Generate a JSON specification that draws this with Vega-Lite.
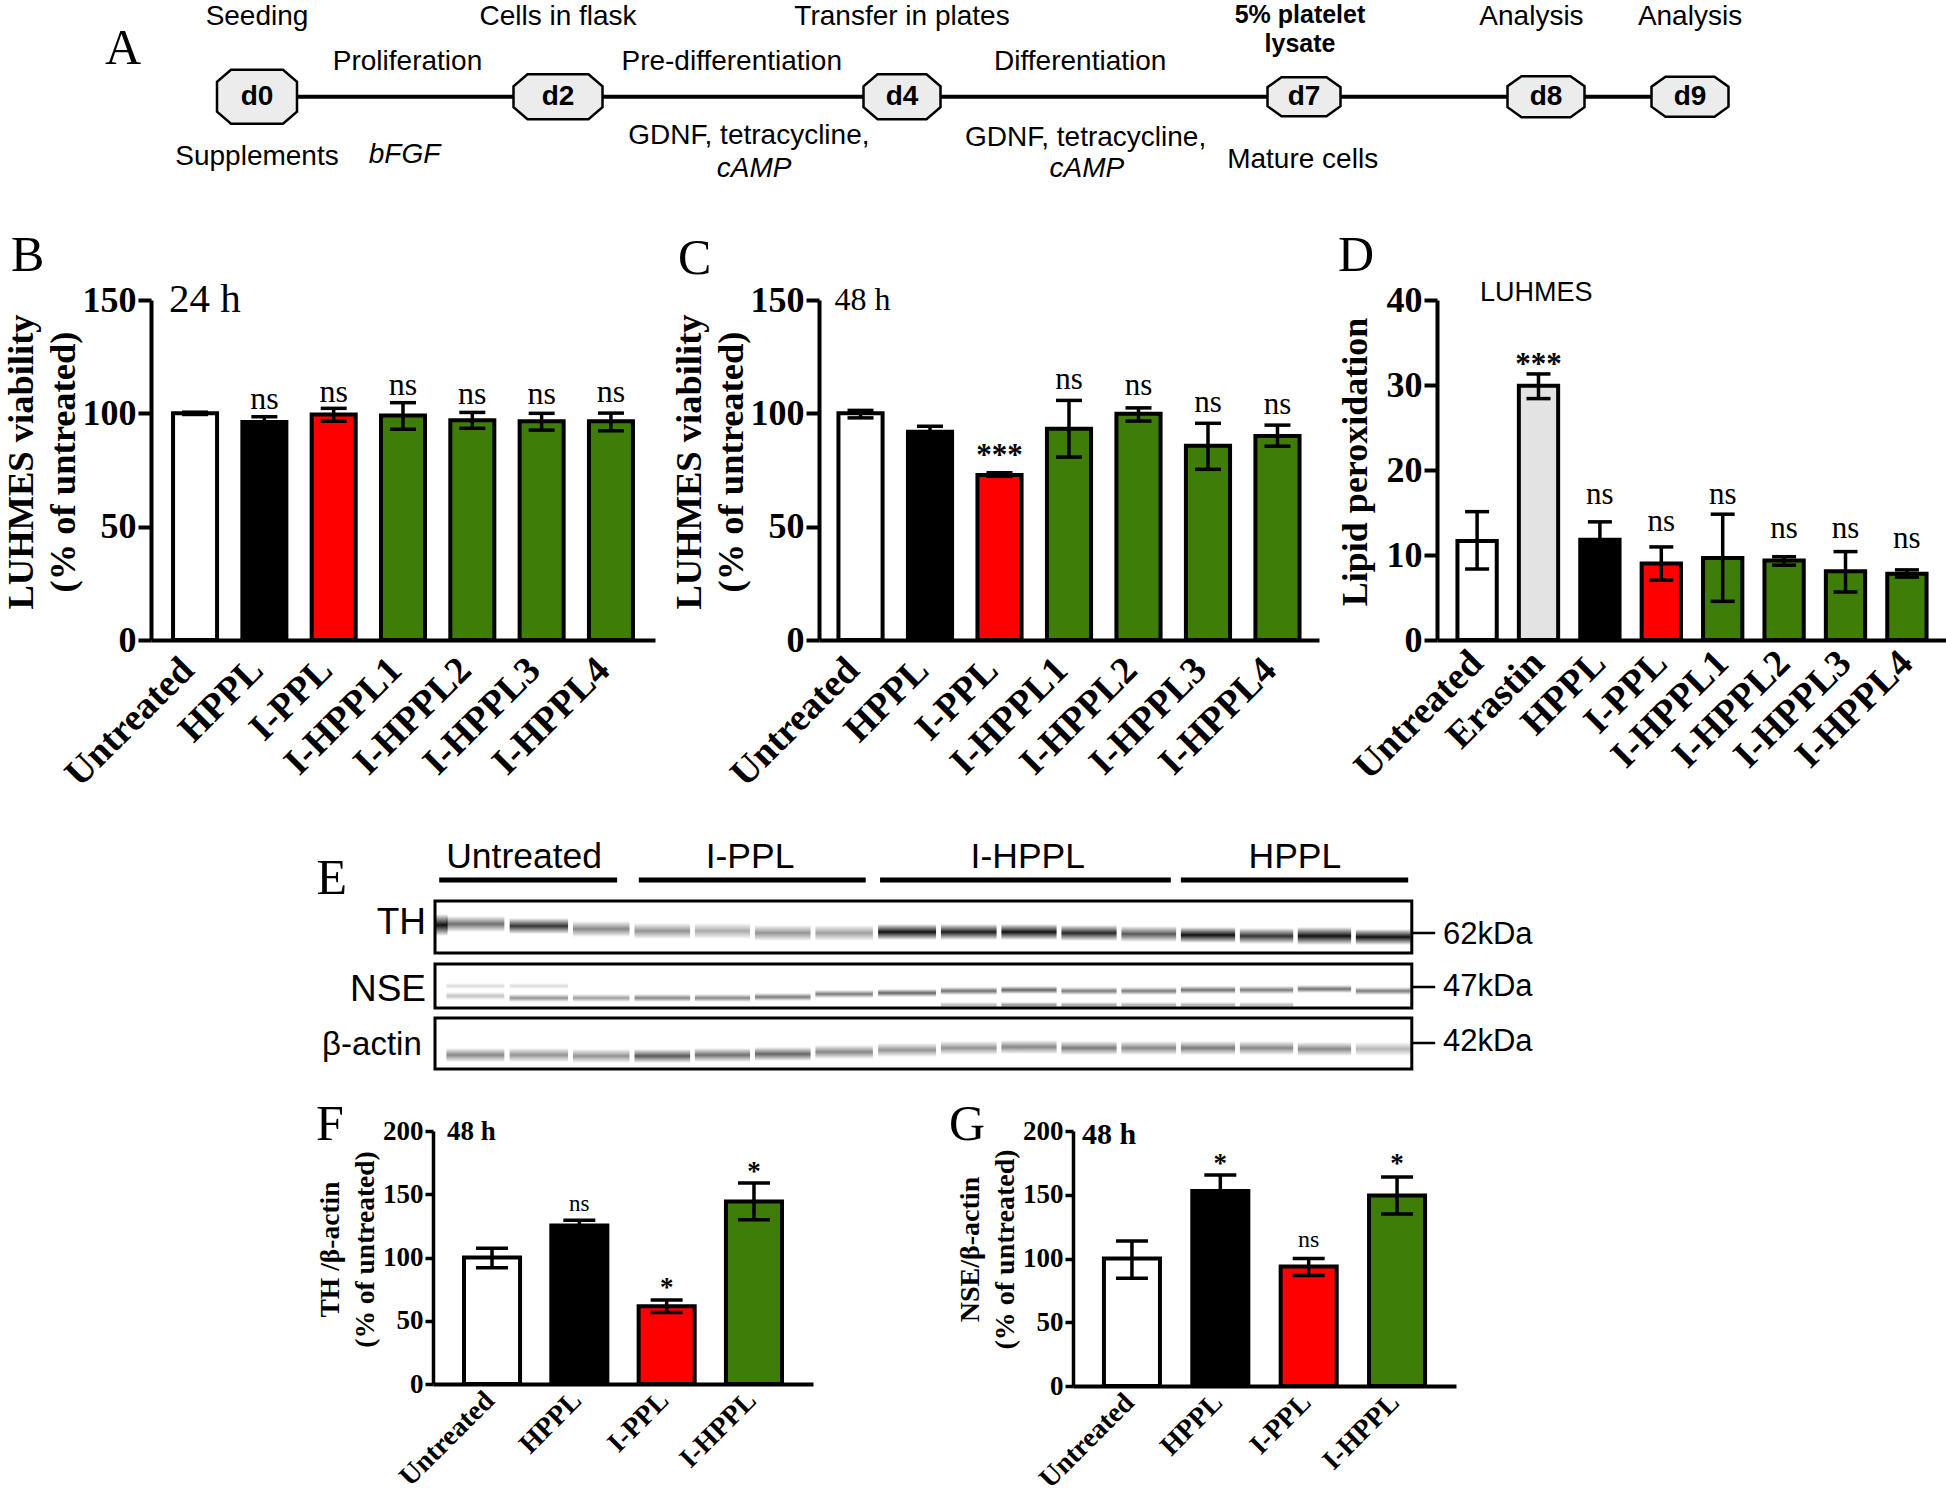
{
"$schema":"https://vega.github.io/schema/vega-lite/v6.json",
"padding":{"left":3,"top":0,"right":0,"bottom":0},
"background":"white",
"config":{"view":{"stroke":null},
"axis":{"grid":false,"domainColor":"#000","tickColor":"#000","labelColor":"#000","titleColor":"#000","labelFont":"Liberation Serif","titleFont":"Liberation Serif","labelFontWeight":"bold","titleFontWeight":"bold"},
"axisY":{"domainWidth":4,"tickWidth":4,"tickSize":13,"labelFontSize":36,"titleFontSize":36.5,"titleLineHeight":41.5,"labelPadding":2,"titlePadding":0,"titleY":161.5},
"axisX":{"domainWidth":4,"ticks":false,"labelAngle":-45,"labelAlign":"right","labelBaseline":"middle","labelFontSize":38,"labelPadding":24,"labelOffset":-7,"title":null,"labelOverlap":false,"labelBound":false},
"title":{"font":"Liberation Serif","fontWeight":"normal","fontSize":50,"anchor":"start","frame":"group","color":"#000"},
"text":{"color":"#000"}},
"bounds":"flush",
"spacing":200,
"datasets":{
"lanes":[{"lane":0.54,"lane_end":1.46},{"lane":1.54,"lane_end":2.46},{"lane":2.54,"lane_end":3.46},{"lane":3.54,"lane_end":4.46},{"lane":4.54,"lane_end":5.46},{"lane":5.54,"lane_end":6.46},{"lane":6.54,"lane_end":7.46},{"lane":7.54,"lane_end":8.46},{"lane":8.54,"lane_end":9.46},{"lane":9.54,"lane_end":10.46},{"lane":10.54,"lane_end":11.46},{"lane":11.54,"lane_end":12.46},{"lane":12.54,"lane_end":13.46},{"lane":13.54,"lane_end":14.46},{"lane":14.54,"lane_end":15.46},{"lane":15.54,"lane_end":16.46}],
"bands":[
{"lane":0.36,"lane_end":0.56,"tier":22.4,"tier_end":24.6,"density":1},
{"lane":0.54,"lane_end":1.46,"tier":22.6,"tier_end":24.2,"density":0.6},
{"lane":1.54,"lane_end":2.46,"tier":22.8,"tier_end":24.4,"density":0.85},
{"lane":2.54,"lane_end":3.46,"tier":23.1,"tier_end":24.7,"density":0.5},
{"lane":3.54,"lane_end":4.46,"tier":23.3,"tier_end":24.9,"density":0.45},
{"lane":4.54,"lane_end":5.46,"tier":23.3,"tier_end":24.9,"density":0.35},
{"lane":5.54,"lane_end":6.46,"tier":23.5,"tier_end":25.1,"density":0.45},
{"lane":6.54,"lane_end":7.46,"tier":23.5,"tier_end":25.1,"density":0.4},
{"lane":7.54,"lane_end":8.46,"tier":23.4,"tier_end":25.0,"density":1},
{"lane":8.54,"lane_end":9.46,"tier":23.4,"tier_end":25.0,"density":0.95},
{"lane":9.54,"lane_end":10.46,"tier":23.4,"tier_end":25.0,"density":1},
{"lane":10.54,"lane_end":11.46,"tier":23.5,"tier_end":25.1,"density":0.9},
{"lane":11.54,"lane_end":12.46,"tier":23.6,"tier_end":25.2,"density":0.7},
{"lane":12.54,"lane_end":13.46,"tier":23.7,"tier_end":25.3,"density":1},
{"lane":13.54,"lane_end":14.46,"tier":23.8,"tier_end":25.4,"density":0.85},
{"lane":14.54,"lane_end":15.46,"tier":23.7,"tier_end":25.5,"density":1},
{"lane":15.54,"lane_end":16.46,"tier":23.9,"tier_end":25.5,"density":1},
{"lane":0.54,"lane_end":1.46,"tier":30.2,"tier_end":31.0,"density":0.25},
{"lane":1.54,"lane_end":2.46,"tier":30.4,"tier_end":31.2,"density":0.45},
{"lane":2.54,"lane_end":3.46,"tier":30.4,"tier_end":31.2,"density":0.4},
{"lane":3.54,"lane_end":4.46,"tier":30.4,"tier_end":31.2,"density":0.5},
{"lane":4.54,"lane_end":5.46,"tier":30.4,"tier_end":31.2,"density":0.5},
{"lane":5.54,"lane_end":6.46,"tier":30.3,"tier_end":31.1,"density":0.55},
{"lane":6.54,"lane_end":7.46,"tier":30.0,"tier_end":30.8,"density":0.55},
{"lane":7.54,"lane_end":8.46,"tier":29.9,"tier_end":30.7,"density":0.65},
{"lane":8.54,"lane_end":9.46,"tier":29.7,"tier_end":30.5,"density":0.6},
{"lane":9.54,"lane_end":10.46,"tier":29.6,"tier_end":30.4,"density":0.65},
{"lane":10.54,"lane_end":11.46,"tier":29.7,"tier_end":30.5,"density":0.55},
{"lane":11.54,"lane_end":12.46,"tier":29.7,"tier_end":30.5,"density":0.55},
{"lane":12.54,"lane_end":13.46,"tier":29.6,"tier_end":30.4,"density":0.6},
{"lane":13.54,"lane_end":14.46,"tier":29.6,"tier_end":30.4,"density":0.55},
{"lane":14.54,"lane_end":15.46,"tier":29.5,"tier_end":30.3,"density":0.6},
{"lane":15.54,"lane_end":16.46,"tier":29.7,"tier_end":30.5,"density":0.55},
{"lane":0.54,"lane_end":1.46,"tier":29.3,"tier_end":29.9,"density":0.15},
{"lane":1.54,"lane_end":2.46,"tier":29.3,"tier_end":29.9,"density":0.15},
{"lane":8.54,"lane_end":9.46,"tier":31.2,"tier_end":31.8,"density":0.3},
{"lane":9.54,"lane_end":10.46,"tier":31.2,"tier_end":31.8,"density":0.45},
{"lane":10.54,"lane_end":11.46,"tier":31.2,"tier_end":31.8,"density":0.4},
{"lane":11.54,"lane_end":12.46,"tier":31.2,"tier_end":31.8,"density":0.35},
{"lane":12.54,"lane_end":13.46,"tier":31.2,"tier_end":31.8,"density":0.35},
{"lane":13.54,"lane_end":14.46,"tier":31.2,"tier_end":31.8,"density":0.3},
{"lane":0.54,"lane_end":1.46,"tier":35.8,"tier_end":37.2,"density":0.5},
{"lane":1.54,"lane_end":2.46,"tier":35.8,"tier_end":37.2,"density":0.45},
{"lane":2.54,"lane_end":3.46,"tier":35.9,"tier_end":37.3,"density":0.45},
{"lane":3.54,"lane_end":4.46,"tier":35.9,"tier_end":37.3,"density":0.7},
{"lane":4.54,"lane_end":5.46,"tier":35.8,"tier_end":37.2,"density":0.6},
{"lane":5.54,"lane_end":6.46,"tier":35.7,"tier_end":37.1,"density":0.65},
{"lane":6.54,"lane_end":7.46,"tier":35.5,"tier_end":36.9,"density":0.5},
{"lane":7.54,"lane_end":8.46,"tier":35.3,"tier_end":36.7,"density":0.45},
{"lane":8.54,"lane_end":9.46,"tier":35.1,"tier_end":36.5,"density":0.45},
{"lane":9.54,"lane_end":10.46,"tier":35.0,"tier_end":36.4,"density":0.5},
{"lane":10.54,"lane_end":11.46,"tier":35.1,"tier_end":36.5,"density":0.55},
{"lane":11.54,"lane_end":12.46,"tier":35.1,"tier_end":36.5,"density":0.5},
{"lane":12.54,"lane_end":13.46,"tier":35.1,"tier_end":36.5,"density":0.55},
{"lane":13.54,"lane_end":14.46,"tier":35.1,"tier_end":36.5,"density":0.5},
{"lane":14.54,"lane_end":15.46,"tier":35.2,"tier_end":36.6,"density":0.5},
{"lane":15.54,"lane_end":16.46,"tier":35.2,"tier_end":36.6,"density":0.3}
]
},
"vconcat":[
{"width":1796,"height":100,
"encoding":{"x":{"field":"day","type":"quantitative","axis":null,"scale":{"domain":[0,2,4,7,8,9],"range":[106,407,751,1153,1395,1539],"nice":false,"zero":false}},"y":{"field":"tier","type":"quantitative","axis":null,"scale":{"domain":[-0.07,2.07],"nice":false,"zero":false}}},
"layer":[
{"data":{"values":[{"day":0,"day_end":9,"tier":0}]},"mark":{"type":"rule","stroke":"#000","strokeWidth":4},"encoding":{"x2":{"field":"day_end"}}},
{"data":{"values":[{"day":0,"tier":0,"label":"d0"},{"day":2,"tier":0,"label":"d2"},{"day":4,"tier":0,"label":"d4"},{"day":7,"tier":0,"label":"d7"},{"day":8,"tier":0,"label":"d8"},{"day":9,"tier":0,"label":"d9"}]},
"layer":[
{"mark":{"type":"point","filled":true,"fill":"#ececec","stroke":"#000","strokeWidth":2.5,"size":10000,"opacity":1},"encoding":{"shape":{"field":"label","type":"nominal","legend":null,"scale":{"domain":["d0","d2","d4","d7","d8","d9"],"range":["M-0.52,-0.54L0.52,-0.54L0.8,-0.3L0.8,0.3L0.52,0.54L-0.52,0.54L-0.8,0.3L-0.8,-0.3Z","M-0.61,-0.45L0.61,-0.45L0.89,-0.21L0.89,0.21L0.61,0.45L-0.61,0.45L-0.89,0.21L-0.89,-0.21Z","M-0.49,-0.45L0.49,-0.45L0.77,-0.21L0.77,0.21L0.49,0.45L-0.49,0.45L-0.77,0.21L-0.77,-0.21Z","M-0.45,-0.39L0.45,-0.39L0.73,-0.19L0.73,0.19L0.45,0.39L-0.45,0.39L-0.73,0.19L-0.73,-0.19Z","M-0.49,-0.41L0.49,-0.41L0.77,-0.21L0.77,0.21L0.49,0.41L-0.49,0.41L-0.77,0.21L-0.77,-0.21Z","M-0.49,-0.4L0.49,-0.4L0.77,-0.2L0.77,0.2L0.49,0.4L-0.49,0.4L-0.77,0.2L-0.77,-0.2Z"]}}}},
{"mark":{"type":"text","font":"Liberation Sans","fontWeight":"bold","fontSize":28,"baseline":"middle"},"encoding":{"text":{"field":"label"}}}
]},
{"data":{"values":[{"day":0,"tier":1.71,"label":"Seeding"},{"day":2,"tier":1.71,"label":"Cells in flask"},{"day":4,"tier":1.71,"label":"Transfer in plates"},{"day":7.94,"tier":1.71,"label":"Analysis"},{"day":9,"tier":1.71,"label":"Analysis"},{"day":1,"tier":0.74,"label":"Proliferation"},{"day":3.01,"tier":0.74,"label":"Pre-differentiation"},{"day":5.33,"tier":0.74,"label":"Differentiation"},{"day":0,"tier":-1.3,"label":"Supplements"},{"day":3.11,"tier":-0.85,"label":"GDNF, tetracycline,"},{"day":5.37,"tier":-0.88,"label":"GDNF, tetracycline,"},{"day":6.99,"tier":-1.36,"label":"Mature cells"}]},"mark":{"type":"text","font":"Liberation Sans","fontSize":28,"baseline":"middle"},"encoding":{"text":{"field":"label"}}},
{"data":{"values":[{"day":0.98,"tier":-1.25,"label":"bFGF"},{"day":3.14,"tier":-1.55,"label":"cAMP"},{"day":5.38,"tier":-1.55,"label":"cAMP"}]},"mark":{"type":"text","font":"Liberation Sans","fontStyle":"italic","fontSize":28,"baseline":"middle"},"encoding":{"text":{"field":"label"}}},
{"data":{"values":[{"day":6.97,"tier":1.75,"label":"5% platelet"},{"day":6.97,"tier":1.13,"label":"lysate"}]},"mark":{"type":"text","font":"Liberation Sans","fontWeight":"bold","fontSize":25,"baseline":"middle"},"encoding":{"text":{"field":"label"}}},
{"data":{"values":[{"day":-0.89,"tier":1.02,"label":"A"}]},"mark":{"type":"text","font":"Liberation Serif","fontSize":50,"baseline":"middle"},"encoding":{"text":{"field":"label"}}}
]},

{"hconcat":[
{"width":504,"height":340,"title":{"text":"B","dx":-140,"offset":-2},
"data":{"values":[
{"group":"Untreated","value":100,"hi":100.5,"lo":99.5},
{"group":"HPPL","value":96.2,"hi":98.5,"lo":94,"sig":"ns","sig_at":106.3},
{"group":"I-PPL","value":99.5,"hi":102.2,"lo":96.5,"sig":"ns","sig_at":109.2},
{"group":"I-HPPL1","value":99,"hi":104.7,"lo":93,"sig":"ns","sig_at":112.5},
{"group":"I-HPPL2","value":97,"hi":100.4,"lo":93.4,"sig":"ns","sig_at":108.4},
{"group":"I-HPPL3","value":96.5,"hi":100,"lo":92.6,"sig":"ns","sig_at":108.4},
{"group":"I-HPPL4","value":96.5,"hi":100.1,"lo":92.3,"sig":"ns","sig_at":109.2}]},
"encoding":{"x":{"field":"group","type":"nominal","sort":null,"scale":{"paddingInner":0.365,"paddingOuter":0.318}}},
"layer":[
{"mark":{"type":"bar","stroke":"#000","strokeWidth":4},"encoding":{"y":{"field":"value","type":"quantitative","scale":{"domain":[0,150],"nice":false},"axis":{"values":[0,50,100,150],"title":["LUHMES viability","(% of untreated)"]}},"fill":{"field":"group","type":"nominal","legend":null,"scale":{"domain":["Untreated","Erastin","HPPL","I-PPL","I-HPPL","I-HPPL1","I-HPPL2","I-HPPL3","I-HPPL4"],"range":["#ffffff","#e3e3e3","#000000","#ff0000","#3e7d08","#3e7d08","#3e7d08","#3e7d08","#3e7d08"]}}}},
{"mark":{"type":"rule","stroke":"#000","strokeWidth":3.5},"encoding":{"y":{"field":"lo","type":"quantitative"},"y2":{"field":"hi"}}},
{"mark":{"type":"tick","color":"#000","thickness":3.5,"size":26,"opacity":1},"encoding":{"y":{"field":"hi","type":"quantitative"}}},
{"mark":{"type":"tick","color":"#000","thickness":3.5,"size":26,"opacity":1},"encoding":{"y":{"field":"lo","type":"quantitative"}}},
{"transform":[{"filter":"datum.sig != null"}],"mark":{"type":"text","font":"Liberation Serif","fontSize":32,"baseline":"middle"},"encoding":{"y":{"field":"sig_at","type":"quantitative"},"text":{"field":"sig"}}},
{"data":{"values":[{"group":"Untreated","at":150,"note":"24 h"}]},"mark":{"type":"text","font":"Liberation Serif","fontSize":41,"align":"left","baseline":"middle","dx":-26},"encoding":{"y":{"field":"at","type":"quantitative"},"text":{"field":"note"}}}
]},
{"width":164,"height":1,"data":{"values":[]},"mark":"text","encoding":{}},
{"width":500,"height":340,"title":{"text":"C","dx":-141,"offset":-2},
"data":{"values":[
{"group":"Untreated","value":100,"hi":101.3,"lo":98},
{"group":"HPPL","value":91.9,"hi":94.3,"lo":89.5},
{"group":"I-PPL","value":72.8,"hi":73.8,"lo":72.2,"sig":"***","sig_at":81.1},
{"group":"I-HPPL1","value":93.2,"hi":105.7,"lo":80.7,"sig":"ns","sig_at":114.6},
{"group":"I-HPPL2","value":99.8,"hi":102.4,"lo":96.6,"sig":"ns","sig_at":112.2},
{"group":"I-HPPL3","value":85.7,"hi":95.6,"lo":75.3,"sig":"ns","sig_at":104.4},
{"group":"I-HPPL4","value":90,"hi":94.8,"lo":85.5,"sig":"ns","sig_at":103.8}]},
"encoding":{"x":{"field":"group","type":"nominal","sort":null,"scale":{"paddingInner":0.365,"paddingOuter":0.28}}},
"layer":[
{"mark":{"type":"bar","stroke":"#000","strokeWidth":4},"encoding":{"y":{"field":"value","type":"quantitative","scale":{"domain":[0,150],"nice":false},"axis":{"values":[0,50,100,150],"title":["LUHMES viability","(% of untreated)"]}},"fill":{"field":"group","type":"nominal","legend":null}}},
{"mark":{"type":"rule","stroke":"#000","strokeWidth":3.5},"encoding":{"y":{"field":"lo","type":"quantitative"},"y2":{"field":"hi"}}},
{"mark":{"type":"tick","color":"#000","thickness":3.5,"size":26,"opacity":1},"encoding":{"y":{"field":"hi","type":"quantitative"}}},
{"mark":{"type":"tick","color":"#000","thickness":3.5,"size":26,"opacity":1},"encoding":{"y":{"field":"lo","type":"quantitative"}}},
{"transform":[{"filter":"datum.sig == 'ns'"}],"mark":{"type":"text","font":"Liberation Serif","fontSize":31,"baseline":"middle"},"encoding":{"y":{"field":"sig_at","type":"quantitative"},"text":{"field":"sig"}}},
{"transform":[{"filter":"datum.sig == '***'"}],"mark":{"type":"text","font":"Liberation Serif","fontWeight":"bold","fontSize":31,"baseline":"middle"},"encoding":{"y":{"field":"sig_at","type":"quantitative"},"text":{"field":"sig"}}},
{"data":{"values":[{"group":"Untreated","at":150,"note":"48 h"}]},"mark":{"type":"text","font":"Liberation Serif","fontSize":32,"align":"left","baseline":"middle","dx":-26},"encoding":{"y":{"field":"at","type":"quantitative"},"text":{"field":"note"}}}
]},
{"width":118,"height":1,"data":{"values":[]},"mark":"text","encoding":{}},
{"width":510,"height":340,"title":{"text":"D","dx":-99,"offset":-2},
"data":{"values":[
{"group":"Untreated","value":11.65,"hi":15.1,"lo":8.35},
{"group":"Erastin","value":29.9,"hi":31.3,"lo":28.4,"sig":"***","sig_at":32.4},
{"group":"HPPL","value":11.8,"hi":13.9,"lo":9.8,"sig":"ns","sig_at":17.1},
{"group":"I-PPL","value":9,"hi":10.95,"lo":7.05,"sig":"ns","sig_at":13.9},
{"group":"I-HPPL1","value":9.65,"hi":14.8,"lo":4.55,"sig":"ns","sig_at":17.1},
{"group":"I-HPPL2","value":9.35,"hi":9.8,"lo":8.8,"sig":"ns","sig_at":13.1},
{"group":"I-HPPL3","value":8.1,"hi":10.4,"lo":5.65,"sig":"ns","sig_at":13.1},
{"group":"I-HPPL4","value":7.8,"hi":8.25,"lo":7.4,"sig":"ns","sig_at":11.9}]},
"encoding":{"x":{"field":"group","type":"nominal","sort":null,"scale":{"paddingInner":0.36,"paddingOuter":0.333},"axis":{"labelOffset":0,"labelPadding":17}}},
"layer":[
{"mark":{"type":"bar","stroke":"#000","strokeWidth":4},"encoding":{"y":{"field":"value","type":"quantitative","scale":{"domain":[0,40],"nice":false},"axis":{"values":[0,10,20,30,40],"title":"Lipid peroxidation","titlePadding":12,"titleFontSize":36}},"fill":{"field":"group","type":"nominal","legend":null}}},
{"mark":{"type":"rule","stroke":"#000","strokeWidth":3.5},"encoding":{"y":{"field":"lo","type":"quantitative"},"y2":{"field":"hi"}}},
{"mark":{"type":"tick","color":"#000","thickness":3.5,"size":24,"opacity":1},"encoding":{"y":{"field":"hi","type":"quantitative"}}},
{"mark":{"type":"tick","color":"#000","thickness":3.5,"size":24,"opacity":1},"encoding":{"y":{"field":"lo","type":"quantitative"}}},
{"transform":[{"filter":"datum.sig == 'ns'"}],"mark":{"type":"text","font":"Liberation Serif","fontSize":31,"baseline":"middle"},"encoding":{"y":{"field":"sig_at","type":"quantitative"},"text":{"field":"sig"}}},
{"transform":[{"filter":"datum.sig == '***'"}],"mark":{"type":"text","font":"Liberation Serif","fontWeight":"bold","fontSize":31,"baseline":"middle"},"encoding":{"y":{"field":"sig_at","type":"quantitative"},"text":{"field":"sig"}}},
{"data":{"values":[{"group":"Untreated","at":40.8,"note":"LUHMES"}]},"mark":{"type":"text","font":"Liberation Sans","fontSize":27,"align":"left","baseline":"middle","dx":3},"encoding":{"y":{"field":"at","type":"quantitative"},"text":{"field":"note"}}}
]}
],"spacing":0,"bounds":"flush"},

{"width":1796,"height":431,
"encoding":{"x":{"field":"lane","type":"quantitative","axis":null,"scale":{"domain":[0,1,2,3,4,5,6,7,8,9,10,11,12,13,14,15,16,17],"range":[263,323,389,450,512,571,632,692,757,818,878,938,998,1057,1116,1173,1232,1292],"nice":false,"zero":false}},"y":{"field":"tier","type":"quantitative","axis":null,"scale":{"domain":[-19,24.1],"reverse":true,"nice":false,"zero":false}}},
"layer":[
{"data":{"name":"lanes"},"mark":{"type":"rect","fill":"#ececec"},"encoding":{"x2":{"field":"lane_end"},"y":{"datum":21.1,"type":"quantitative"},"y2":{"datum":26.3}}},
{"data":{"name":"lanes"},"mark":{"type":"rect","fill":"#f4f4f4"},"encoding":{"x2":{"field":"lane_end"},"y":{"datum":27.4,"type":"quantitative"},"y2":{"datum":31.8}}},
{"data":{"name":"lanes"},"mark":{"type":"rect","fill":"#f3f3f3"},"encoding":{"x2":{"field":"lane_end"},"y":{"datum":32.8,"type":"quantitative"},"y2":{"datum":37.9}}},
{"data":{"name":"bands"},"mark":{"type":"rect","fill":{"gradient":"linear","x1":0,"y1":0,"x2":0,"y2":1,"stops":[{"offset":0,"color":"rgba(15,15,15,0)"},{"offset":0.5,"color":"rgba(15,15,15,1)"},{"offset":1,"color":"rgba(15,15,15,0)"}]}},"encoding":{"x2":{"field":"lane_end"},"y2":{"field":"tier_end"},"opacity":{"field":"density","type":"quantitative","legend":null,"scale":{"domain":[0,1],"range":[0,1]}}}},
{"data":{"values":[{"lane":0.35,"lane_end":16.48,"tier":21.1,"tier_end":26.3},{"lane":0.35,"lane_end":16.48,"tier":27.4,"tier_end":31.8},{"lane":0.35,"lane_end":16.48,"tier":32.8,"tier_end":37.9}]},"mark":{"type":"rect","fillOpacity":0,"stroke":"#000","strokeWidth":3},"encoding":{"x2":{"field":"lane_end"},"y2":{"field":"tier_end"}}},
{"data":{"values":[{"lane":0.42,"lane_end":3.26,"tier":19},{"lane":3.61,"lane_end":7.35,"tier":19},{"lane":7.57,"lane_end":12.37,"tier":19},{"lane":12.54,"lane_end":16.42,"tier":19}]},"mark":{"type":"rule","stroke":"#000","strokeWidth":5},"encoding":{"x2":{"field":"lane_end"}}},
{"data":{"values":[{"lane":16.48,"lane_end":16.87,"tier":24.3},{"lane":16.48,"lane_end":16.87,"tier":29.7},{"lane":16.48,"lane_end":16.87,"tier":35.3}]},"mark":{"type":"rule","stroke":"#000","strokeWidth":2.5},"encoding":{"x2":{"field":"lane_end"}}},
{"data":{"values":[{"lane":1.76,"tier":16.7,"label":"Untreated"},{"lane":5.46,"tier":16.7,"label":"I-PPL"},{"lane":9.98,"tier":16.7,"label":"I-HPPL"},{"lane":14.49,"tier":16.7,"label":"HPPL"}]},"mark":{"type":"text","font":"Liberation Sans","fontSize":35.5,"baseline":"middle"},"encoding":{"text":{"field":"label"}}},
{"data":{"values":[{"lane":0.2,"tier":23.3,"label":"TH"},{"lane":0.2,"tier":30,"label":"NSE"}]},"mark":{"type":"text","font":"Liberation Sans","fontSize":37,"align":"right","baseline":"middle"},"encoding":{"text":{"field":"label"}}},
{"data":{"values":[{"lane":0.13,"tier":35.5,"label":"β-actin"}]},"mark":{"type":"text","font":"Liberation Sans","fontSize":33,"align":"right","baseline":"middle"},"encoding":{"text":{"field":"label"}}},
{"data":{"values":[{"lane":17,"tier":24.5,"label":"62kDa"},{"lane":17,"tier":29.7,"label":"47kDa"},{"lane":17,"tier":35.2,"label":"42kDa"}]},"mark":{"type":"text","font":"Liberation Sans","fontSize":31,"align":"left","baseline":"middle"},"encoding":{"text":{"field":"label"}}},
{"data":{"values":[{"lane":-1.37,"tier":18.9,"label":"E"}]},"mark":{"type":"text","font":"Liberation Serif","fontSize":50,"baseline":"middle"},"encoding":{"text":{"field":"label"}}}
]},

{"hconcat":[
{"width":282,"height":1,"data":{"values":[]},"mark":"text","encoding":{}},
{"width":380,"height":253,"title":{"text":"F","dx":-117,"offset":-33},
"data":{"values":[
{"group":"Untreated","value":100,"hi":107.4,"lo":91.8},
{"group":"HPPL","value":125.3,"hi":129.5,"lo":121,"sig":"ns","sig_at":142.5},
{"group":"I-PPL","value":61.5,"hi":66.5,"lo":56.5,"sig":"*","sig_at":75.5},
{"group":"I-HPPL","value":144.3,"hi":158.8,"lo":129.8,"sig":"*","sig_at":167.5}]},
"encoding":{"x":{"field":"group","type":"nominal","sort":null,"scale":{"paddingInner":0.358,"paddingOuter":0.355},"axis":{"labelFontSize":28,"labelPadding":12,"labelOffset":-2}}},
"layer":[
{"mark":{"type":"bar","stroke":"#000","strokeWidth":4},"encoding":{"y":{"field":"value","type":"quantitative","scale":{"domain":[0,200],"nice":false},"axis":{"values":[0,50,100,150,200],"title":["TH /β-actin","(% of untreated)"],"labelFontSize":27,"titleFontSize":27.5,"titleLineHeight":35,"titlePadding":3,"titleY":118,"tickSize":8,"domainWidth":3.5,"tickWidth":3.5}},"fill":{"field":"group","type":"nominal","legend":null}}},
{"mark":{"type":"rule","stroke":"#000","strokeWidth":3.5},"encoding":{"y":{"field":"lo","type":"quantitative"},"y2":{"field":"hi"}}},
{"mark":{"type":"tick","color":"#000","thickness":3.5,"size":32,"opacity":1},"encoding":{"y":{"field":"hi","type":"quantitative"}}},
{"mark":{"type":"tick","color":"#000","thickness":3.5,"size":32,"opacity":1},"encoding":{"y":{"field":"lo","type":"quantitative"}}},
{"transform":[{"filter":"datum.sig == 'ns'"}],"mark":{"type":"text","font":"Liberation Serif","fontSize":23,"baseline":"middle"},"encoding":{"y":{"field":"sig_at","type":"quantitative"},"text":{"field":"sig"}}},
{"transform":[{"filter":"datum.sig == '*'"}],"mark":{"type":"text","font":"Liberation Serif","fontWeight":"bold","fontSize":27,"baseline":"middle"},"encoding":{"y":{"field":"sig_at","type":"quantitative"},"text":{"field":"sig"}}},
{"data":{"values":[{"group":"Untreated","at":199.5,"note":"48 h"}]},"mark":{"type":"text","font":"Liberation Serif","fontWeight":"bold","fontSize":27,"align":"left","baseline":"middle","dx":-45},"encoding":{"y":{"field":"at","type":"quantitative"},"text":{"field":"note"}}}
]},
{"width":260,"height":1,"data":{"values":[]},"mark":"text","encoding":{}},
{"width":383,"height":255,"title":{"text":"G","dx":-124,"offset":-33},
"data":{"values":[
{"group":"Untreated","value":100,"hi":113.8,"lo":84.6},
{"group":"HPPL","value":152.9,"hi":165.4,"lo":140,"sig":"*","sig_at":174.5},
{"group":"I-PPL","value":93.8,"hi":100,"lo":86.7,"sig":"ns","sig_at":114.6},
{"group":"I-HPPL","value":149.5,"hi":164,"lo":135,"sig":"*","sig_at":174.5}]},
"encoding":{"x":{"field":"group","type":"nominal","sort":null,"scale":{"paddingInner":0.366,"paddingOuter":0.35},"axis":{"labelFontSize":28,"labelPadding":12,"labelOffset":-2}}},
"layer":[
{"mark":{"type":"bar","stroke":"#000","strokeWidth":4},"encoding":{"y":{"field":"value","type":"quantitative","scale":{"domain":[0,200],"nice":false},"axis":{"values":[0,50,100,150,200],"title":["NSE/β-actin","(% of  untreated)"],"labelFontSize":27,"titleFontSize":28,"titleLineHeight":35,"titlePadding":3,"titleY":118,"tickSize":8,"domainWidth":3.5,"tickWidth":3.5}},"fill":{"field":"group","type":"nominal","legend":null}}},
{"mark":{"type":"rule","stroke":"#000","strokeWidth":3.5},"encoding":{"y":{"field":"lo","type":"quantitative"},"y2":{"field":"hi"}}},
{"mark":{"type":"tick","color":"#000","thickness":3.5,"size":32,"opacity":1},"encoding":{"y":{"field":"hi","type":"quantitative"}}},
{"mark":{"type":"tick","color":"#000","thickness":3.5,"size":32,"opacity":1},"encoding":{"y":{"field":"lo","type":"quantitative"}}},
{"transform":[{"filter":"datum.sig == 'ns'"}],"mark":{"type":"text","font":"Liberation Serif","fontSize":24,"baseline":"middle"},"encoding":{"y":{"field":"sig_at","type":"quantitative"},"text":{"field":"sig"}}},
{"transform":[{"filter":"datum.sig == '*'"}],"mark":{"type":"text","font":"Liberation Serif","fontWeight":"bold","fontSize":27,"baseline":"middle"},"encoding":{"y":{"field":"sig_at","type":"quantitative"},"text":{"field":"sig"}}},
{"data":{"values":[{"group":"Untreated","at":197,"note":"48 h"}]},"mark":{"type":"text","font":"Liberation Serif","fontWeight":"bold","fontSize":30,"align":"left","baseline":"middle","dx":-50},"encoding":{"y":{"field":"at","type":"quantitative"},"text":{"field":"note"}}}
]}
],"spacing":0,"bounds":"flush"}
]
}
